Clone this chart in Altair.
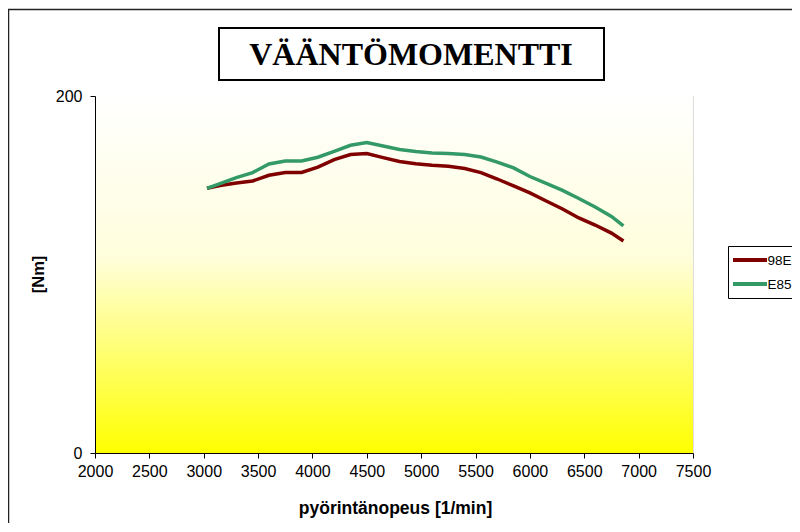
import altair as alt
import pandas as pd

title_text = ["VÄÄNTÖMOMENTTI"]
series_names = ["98E", "E85"]
series_colors = ["#800000", "#339966"]
rpm = [3030, 3150, 3300, 3450, 3600, 3750, 3900, 4050, 4200, 4350, 4500, 4650, 4800, 4950,
       5100, 5250, 5400, 5550, 5700, 5850, 6000, 6150, 6300, 6450, 6600, 6750, 6860]
torque_98e = [148.3, 149.9, 151.3, 152.4, 155.6, 157.1, 157.2, 160.2, 164.4, 167.2, 167.8, 165.5,
              163.3, 162.1, 161.2, 160.6, 159.4, 157.1, 153.5, 149.6, 145.7, 141.2, 136.7, 131.7,
              127.7, 123.2, 118.8]
torque_e85 = [148.3, 150.9, 154.3, 157.1, 161.9, 163.6, 163.6, 165.7, 169.0, 172.4, 173.9, 172.0,
              170.0, 168.9, 168.1, 167.8, 167.2, 165.8, 163.0, 159.7, 154.9, 151.1, 147.1, 142.6,
              137.8, 132.5, 127.3]
x_ticks = [2000, 2500, 3000, 3500, 4000, 4500, 5000, 5500, 6000, 6500, 7000, 7500]
y_ticks = [0, 200]

W, H = 598, 357
FONT = "Liberation Sans"

rows = []
for name, vals in zip(series_names, [torque_98e, torque_e85]):
    for r, v in zip(rpm, vals):
        rows.append({"rpm": r, "torque": v, "series": name})
df = pd.DataFrame(rows)

one = pd.DataFrame({"t": title_text})
color_scale = alt.Scale(domain=series_names, range=series_colors)

bg = alt.Chart(one).mark_rect(
    color=alt.Gradient(
        gradient="linear", x1=0, y1=0, x2=0, y2=1,
        stops=[alt.GradientStop(color="#FFFFFF", offset=0),
               alt.GradientStop(color="#FFFEDC", offset=0.45),
               alt.GradientStop(color="#FFFF00", offset=1)]
    )
).encode(x=alt.value(0), x2=alt.value(W), y=alt.value(0), y2=alt.value(H))

outer = alt.Chart(one).mark_rect(
    fill="transparent", stroke="#222222", strokeWidth=1.5
).encode(x=alt.value(-86.5), x2=alt.value(760), y=alt.value(-86.5), y2=alt.value(500))

tbox = alt.Chart(one).mark_rect(
    fill="white", stroke="black", strokeWidth=2
).encode(x=alt.value(124), x2=alt.value(509), y=alt.value(-68), y2=alt.value(-16))

ttext = alt.Chart(one).mark_text(
    font="Liberation Serif", fontWeight="bold", fontSize=32, color="black",
    align="center", baseline="middle"
).encode(x=alt.value(316), y=alt.value(-41), text="t:N")

lines = alt.Chart(df).mark_line(strokeWidth=3.5).encode(
    x=alt.X("rpm:Q", scale=alt.Scale(domain=[2000, 7500], nice=False, zero=False),
            axis=alt.Axis(values=x_ticks, format="d", title="pyörintänopeus [1/min]", grid=False,
                          zindex=1, labelFlush=False, labelOverlap=False,
                          domainColor="black", tickColor="black", tickSize=5,
                          labelFont=FONT, labelFontSize=16, labelColor="black", labelPadding=5,
                          titleFont=FONT, titleFontSize=17.5, titleFontWeight="bold", titleColor="black",
                          titleX=300, titleY=55, titleBaseline="middle", titleAlign="center")),
    y=alt.Y("torque:Q", scale=alt.Scale(domain=[0, 200], nice=False),
            axis=alt.Axis(values=y_ticks, format="d", title="[Nm]", grid=False, zindex=1,
                          labelFlush=False,
                          domainColor="black", tickColor="black", tickSize=5,
                          labelFont=FONT, labelFontSize=16, labelColor="black", labelPadding=8,
                          titleFont=FONT, titleFontSize=16.5, titleFontWeight="bold", titleColor="black",
                          titleAngle=270, titleX=-57, titleY=178, titleBaseline="middle",
                          titleAlign="center")),
    color=alt.Color("series:N", sort=series_names, scale=color_scale, legend=None),
)

# manual legend
leg_box = alt.Chart(one).mark_rect(
    fill="white", stroke="black", strokeWidth=1
).encode(x=alt.value(633.5), x2=alt.value(760), y=alt.value(150.5), y2=alt.value(202.5))

leg_layers = []
for i, name in enumerate(series_names):
    yy = 164 + 24 * i
    d = pd.DataFrame({"series": [name]})
    leg_layers.append(
        alt.Chart(d).mark_rule(strokeWidth=4).encode(
            x=alt.value(638), x2=alt.value(672), y=alt.value(yy),
            color=alt.Color("series:N", scale=color_scale, legend=None))
    )
    leg_layers.append(
        alt.Chart(d).mark_text(font=FONT, fontSize=13.5, color="black", align="left",
                               baseline="middle").encode(
            x=alt.value(672.5), y=alt.value(yy + 1), text="series:N")
    )

chart = alt.layer(outer, bg, tbox, ttext, lines, leg_box, *leg_layers).properties(
    width=W, height=H,
    autosize=alt.AutoSizeParams(type="none"),
    padding={"left": 87, "top": 88, "right": 99, "bottom": 70},
).configure_view(stroke="#808080", strokeWidth=1).configure(background="white")

chart.save("out.html", embed_options={"renderer": "svg", "actions": False})
